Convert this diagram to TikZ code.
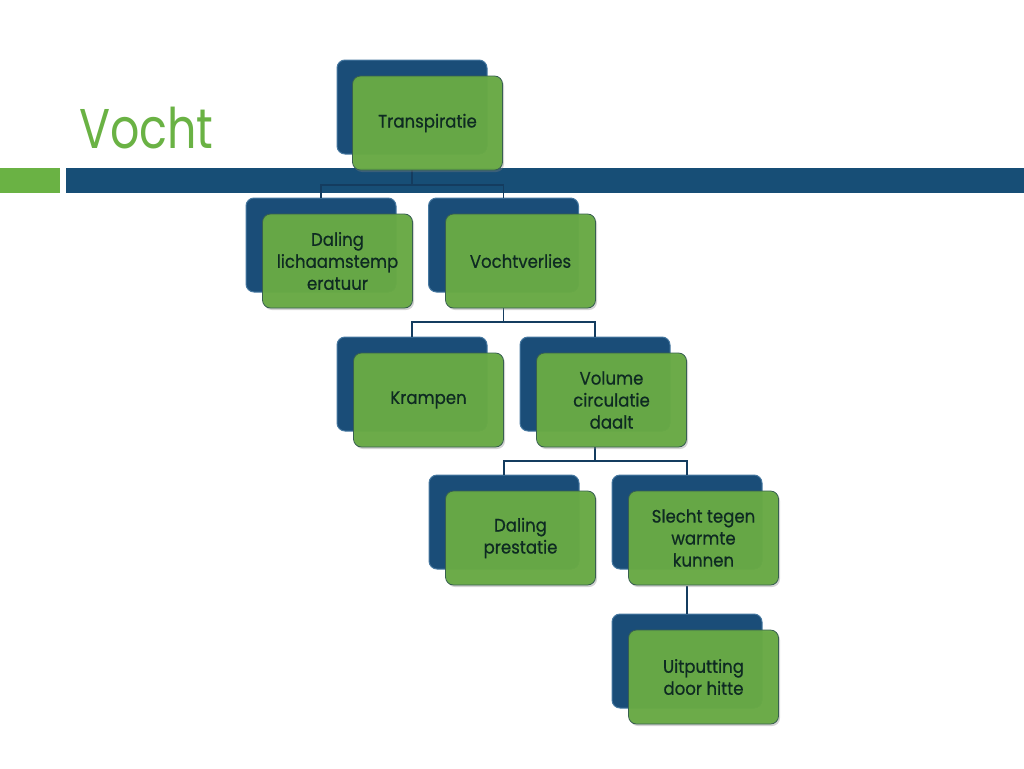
\documentclass[tikz,border=0pt]{standalone}
\usepackage{fontspec}
\setmainfont{Poppins}
\newfontfamily\titlefont[FakeStretch=0.82]{Poppins}
\newfontfamily\boxfont[FakeStretch=0.92,FakeBold=0.6]{Poppins}
\usetikzlibrary{shadows}
\definecolor{barblue}{RGB}{23,78,118}
\definecolor{boxblue}{RGB}{26,77,120}
\definecolor{boxblueedge}{RGB}{70,120,160}
\definecolor{boxgreen}{RGB}{104,170,68}
\definecolor{boxgreenedge}{RGB}{55,95,80}
\definecolor{titlegreen}{RGB}{106,178,68}
\definecolor{txt}{RGB}{14,42,34}
\definecolor{linecol}{RGB}{20,60,95}
\tikzset{
  backbox/.style={rectangle, rounded corners=8pt, fill=boxblue, draw=boxblueedge, line width=1pt,
    minimum width=150pt, minimum height=94pt, inner sep=0pt},
  frontbox/.style={rectangle, rounded corners=8pt, fill=boxgreen, fill opacity=0.96, draw=boxgreenedge, line width=0.8pt,
    minimum width=150pt, minimum height=94pt, inner sep=0pt, text=txt, text opacity=1, align=center,
    font=\boxfont\fontsize{18}{22}\selectfont,
    drop shadow={shadow xshift=1.5pt, shadow yshift=-2pt, opacity=0.35}},
  conn/.style={draw=linecol, line width=1.2pt}
}
\begin{document}
\begin{tikzpicture}[x=1pt,y=-1pt]
\useasboundingbox (0,0) rectangle (1024,768);
% title and bar
\node[anchor=base west, inner sep=0pt, text=titlegreen, font=\titlefont\fontsize{56}{64}\selectfont] (title) at (79,148) {Vocht};
\fill[titlegreen] (0,168) rectangle (60,193);
\fill[barblue] (66,168) rectangle (1024,193);
% back boxes
\node[backbox] (tB) at (412,107) {};
\node[backbox] (dB) at (321,245) {};
\node[backbox] (vB) at (503.5,245) {};
\node[backbox] (kB) at (412,384) {};
\node[backbox] (volB) at (595,384) {};
\node[backbox] (dpB) at (504,522) {};
\node[backbox] (sB) at (687,522) {};
\node[backbox] (uB) at (687,661) {};
% connectors
\draw[conn] (tB.center |- 0,170) -- (tB.center |- 0,185) -| (dB.north);
\draw[conn] (tB.center |- 0,185) -| (vB.north);
\draw[conn] (vB.center |- 0,308) -- (vB.center |- 0,322) -| (kB.north);
\draw[conn] (vB.center |- 0,322) -| (volB.north);
\draw[conn] (volB.center |- 0,447) -- (volB.center |- 0,461) -| (dpB.north);
\draw[conn] (volB.center |- 0,461) -| (sB.north);
\draw[conn] (sB.center |- 0,586) -- (uB.north);
% front boxes
\node[frontbox] (t) at (427.5,123) {Transpiratie};
\node[frontbox] (d) at (337.5,261) {Daling\\lichaamstemp\\eratuur};
\node[frontbox] (v) at (520.5,261) {Vochtverlies};
\node[frontbox] (k) at (428.5,400) {Krampen};
\node[frontbox] (vol) at (611.5,400) {Volume\\circulatie\\daalt};
\node[frontbox] (dp) at (520.5,538) {Daling\\prestatie};
\node[frontbox] (s) at (703.5,538) {Slecht tegen\\warmte\\kunnen};
\node[frontbox] (u) at (703.5,677) {Uitputting\\door hitte};
\end{tikzpicture}
\end{document}
